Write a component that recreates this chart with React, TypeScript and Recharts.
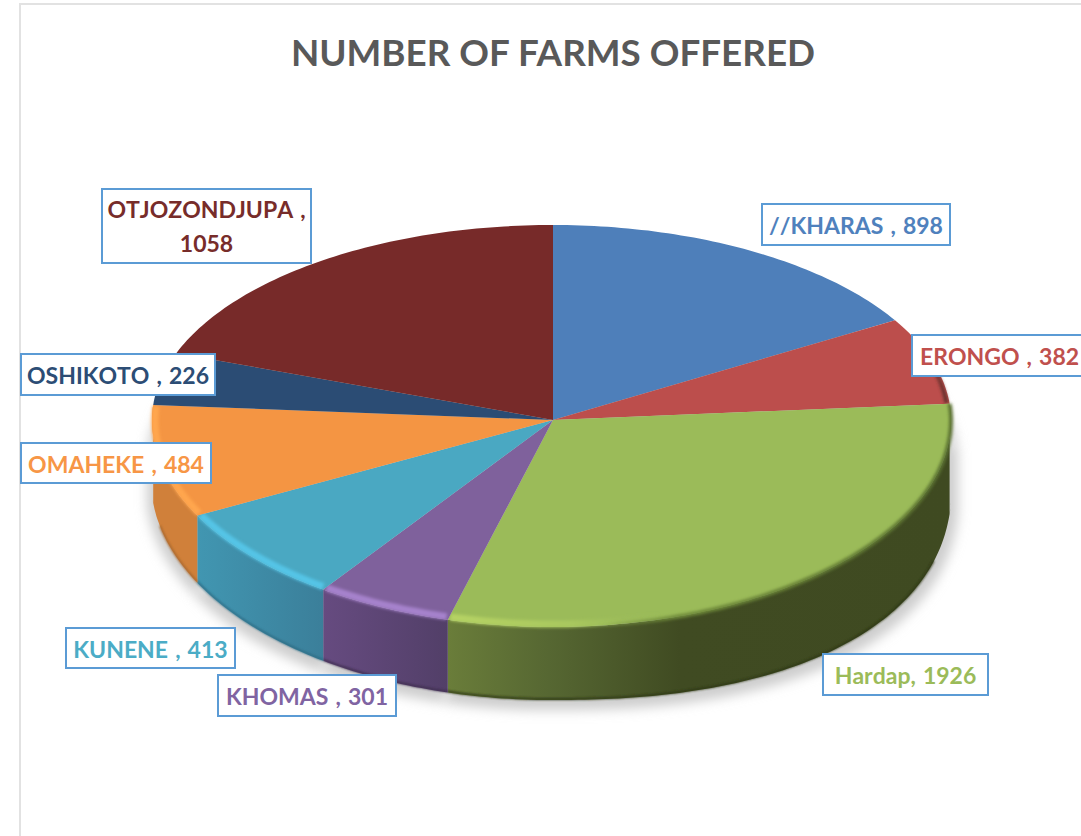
import React from "react";
import { PieChart, Pie } from "recharts";

const regions = ["//KHARAS", "ERONGO", "Hardap", "KHOMAS", "KUNENE", "OMAHEKE", "OSHIKOTO", "OTJOZONDJUPA"];
const farms = [898, 382, 1926, 301, 413, 484, 226, 1058];
const separators = [" , ", " , ", ", ", " , ", " , ", " , ", " , ", " ,"];
const colors = ["#4e7fba", "#bc4e4c", "#9bbb59", "#7f619c", "#4aa8c2", "#f49543", "#2b4c74", "#772a29"];
const textColors = ["#4f81bd", "#c0504d", "#9bbb59", "#8064a2", "#4bacc6", "#f79646", "#2c4d75", "#772c2a"];

const table = regions.map((name, i) => ({ name, value: farms[i], fill: colors[i], index: i }));

// Layout and styling, kept apart from the data
const CX = 553;
const CY = 420;
const RADIUS = 400;
const FAR_RY = 195;
const NEAR_RY = 207;
const RIGHT_RX = 398;
const LEFT_RX = 401;
// the reference's 3D view bends the pie's angles: [pie angle, drawn angle]
const BEND = [[0, 0], [56.8, 59.2], [81, 85.2], [202.9, 195.2], [222, 215], [248.1, 242.5], [278.7, 274.4], [293, 290], [360, 360]];
// x, y, width, height of each label box
const BOXES = [
  [762, 204, 188, 41],
  [912, 335, 175, 41],
  [823, 654, 165, 41],
  [218, 675, 178, 41],
  [66, 628, 169, 40],
  [21, 443, 190, 40],
  [21, 354, 194, 41],
  [102, 189, 209, 74],
];
const RIM = [null, "url(#rim1)", "url(#rim2)", "#a682cc", "#54c4e6", "#ffa64d", null, null];
const SIDE = ["none", "none", "url(#side2)", "url(#side3)", "url(#side4)", "#d0803a", "none", "none"];
const FOOT = [null, null, "#2f3818", "#3f2f50", "#2f6d85", "#a8682f", null, null];
const FONT = "Lato, sans-serif";

const bend = (t: number) => {
  for (let i = 1; i < BEND.length; i++) {
    const [a0, b0] = BEND[i - 1];
    const [a1, b1] = BEND[i];
    if (t <= a1) return b0 + ((t - a0) / (a1 - a0)) * (b1 - b0);
  }
  return t;
};
const rad = (d: number) => (d * Math.PI) / 180;
const pt = (cx: number, cy: number, w: number, grow = 0): [number, number] => {
  const s = Math.sin(rad(w));
  const c = Math.cos(rad(w));
  const rx = (s >= 0 ? RIGHT_RX : LEFT_RX) + grow;
  const ry = (c >= 0 ? FAR_RY : NEAR_RY) + grow;
  return [cx + rx * s, cy - ry * c];
};
const arc = (cx: number, cy: number, w0: number, w1: number, grow = 0) => {
  const out: [number, number][] = [];
  const n = Math.max(2, Math.ceil(Math.abs(w1 - w0)));
  for (let i = 0; i <= n; i++) out.push(pt(cx, cy, w0 + ((w1 - w0) * i) / n, grow));
  return out;
};
// silhouette of the pie's underside
const footY = (x: number) => {
  if (x >= 551) {
    const u = Math.min(1, (x - 551) / 401);
    return 480 + 220 * Math.pow(1 - Math.pow(u, 2.3), 1 / 2.3);
  }
  const u = Math.min(1, (551 - x) / 400);
  return 480 + 220 * Math.sqrt(1 - u * u);
};
const foot = (p: [number, number][]) => p.map(([x]) => [x, footY(x)] as [number, number]);
const toPath = (p: [number, number][]) => "M" + p.map(([x, y]) => `${x.toFixed(1)},${y.toFixed(1)}`).join("L");
const range = (p: any) => [bend(90 - p.startAngle), bend(90 - p.endAngle)];

const ShadowShape = (p: any) => {
  const [a, b] = range(p);
  const pts = arc(p.cx, p.cy, a, b).map(([x, y]) => {
    const nx = x + (x >= p.cx ? 7 : -5);
    return [nx, y > p.cy ? footY(x) + 10 : y + 40] as [number, number];
  });
  const d = toPath([[p.cx, p.cy + 60], ...pts]) + "Z";
  return <path d={d} fill="#cdcdcd" filter="url(#soft)" />;
};

const SideShape = (p: any) => {
  const [a, b] = range(p);
  const w0 = Math.max(a, 80);
  const w1 = Math.min(b, 280);
  if (w1 <= w0 || SIDE[p.index] === "none") return <g />;
  const rim = arc(p.cx, p.cy, w0, w1);
  const d = toPath([...rim, ...foot(rim).reverse()]) + "Z";
  const edge = FOOT[p.index];
  return (
    <g>
      <path d={d} fill={SIDE[p.index]} />
      {edge && <path d={toPath(foot(rim).map(([x, y]) => [x, y - 1] as [number, number]).filter(([x]) => x > 160 && x < 935))} fill="none" stroke={edge} strokeWidth={2} filter="url(#edgeBlur)" />}
    </g>
  );
};

const TopShape = (p: any) => {
  const [a, b] = range(p);
  const d = toPath([[p.cx, p.cy], ...arc(p.cx, p.cy, a, b)]) + "Z";
  const rim = RIM[p.index];
  return (
    <g>
      <path d={d} fill={p.payload?.fill ?? p.fill} />
      {rim && (
        <path
          d={toPath(arc(p.cx, p.cy, a + 0.3, b - 0.3, -3))}
          fill="none"
          stroke={rim}
          strokeWidth={p.index === 1 ? 4 : 7}
          filter="url(#rimBlur)"
        />
      )}
      {p.index === 2 && (
        <path
          d={toPath(arc(p.cx, p.cy, a, b, 0))}
          fill="none"
          stroke="url(#edge2)"
          strokeWidth={4}
          filter="url(#rimBlur)"
        />
      )}
    </g>
  );
};

const BoxLabel = (p: any) => {
  const i = p.index;
  const [x, y, w, h] = BOXES[i];
  const line = `${regions[i]}${separators[i]}`;
  const tx = x + w / 2;
  const style = { fontKerning: "none" as const, wordSpacing: 1.5 };
  return (
    <g>
      <rect x={x} y={y} width={w} height={h} fill="#fff" stroke="#5b9bd5" strokeWidth={2} />
      {h > 50 ? (
        <text textAnchor="middle" fill={textColors[i]} fontFamily={FONT} fontWeight={700} fontSize={23} style={style}>
          <tspan x={tx} y={y + 29}>{line}</tspan>
          <tspan x={tx} y={y + 63}>{farms[i]}</tspan>
        </text>
      ) : (
        <text x={tx} y={y + 30} textAnchor="middle" fill={textColors[i]} fontFamily={FONT} fontWeight={700} fontSize={23} style={style}>
          {line + farms[i]}
        </text>
      )}
    </g>
  );
};

const pieProps = {
  data: table,
  dataKey: "value",
  nameKey: "name",
  cx: CX,
  cy: CY,
  innerRadius: 0,
  outerRadius: RADIUS,
  startAngle: 90,
  endAngle: -270,
  stroke: "none",
  isAnimationActive: false,
  labelLine: false,
};

export default function App() {
  return (
    <div style={{ position: "absolute", left: 0, top: 0, width: 1081, height: 836, overflow: "hidden", background: "#fff" }}>
      <div style={{ position: "absolute", left: 19, top: 3, width: 1062, height: 833, borderLeft: "2px solid #e2e2e2", borderTop: "2px solid #e2e2e2", boxSizing: "border-box" }} />
      <div style={{ position: "absolute", left: 0, width: 1106, top: 30, textAlign: "center", fontFamily: FONT, fontWeight: 700, fontSize: 36.8, lineHeight: "44px", color: "#595959" }}>
        NUMBER OF FARMS OFFERED
      </div>
      <div style={{ position: "absolute", left: 0, top: 0 }}>
        <PieChart width={1081} height={836} margin={{ top: 0, right: 0, bottom: 0, left: 0 }}>
          <defs>
            <filter id="soft" filterUnits="userSpaceOnUse" x="0" y="0" width="1081" height="836">
              <feGaussianBlur stdDeviation="6" />
            </filter>
            <filter id="rimBlur" filterUnits="userSpaceOnUse" x="0" y="0" width="1081" height="836">
              <feGaussianBlur stdDeviation="1.6" />
            </filter>
            <filter id="edgeBlur" filterUnits="userSpaceOnUse" x="0" y="0" width="1081" height="836">
              <feGaussianBlur stdDeviation="0.8" />
            </filter>
            <linearGradient id="side2" gradientUnits="userSpaceOnUse" x1="448" y1="0" x2="952" y2="0">
              <stop offset="0" stopColor="#6a7d3a" />
              <stop offset="0.2" stopColor="#566732" />
              <stop offset="0.46" stopColor="#404b22" />
              <stop offset="1" stopColor="#3f4a21" />
            </linearGradient>
            <linearGradient id="side3" gradientUnits="userSpaceOnUse" x1="323" y1="0" x2="448" y2="0">
              <stop offset="0" stopColor="#664b80" />
              <stop offset="1" stopColor="#523f68" />
            </linearGradient>
            <linearGradient id="side4" gradientUnits="userSpaceOnUse" x1="198" y1="0" x2="323" y2="0">
              <stop offset="0" stopColor="#4196b1" />
              <stop offset="1" stopColor="#3b7f9a" />
            </linearGradient>
            <linearGradient id="rim2" gradientUnits="userSpaceOnUse" x1="448" y1="0" x2="952" y2="0">
              <stop offset="0" stopColor="#b6d364" />
              <stop offset="0.25" stopColor="#a8c75e" />
              <stop offset="0.42" stopColor="#9bbb59" stopOpacity="0" />
              <stop offset="1" stopColor="#9bbb59" stopOpacity="0" />
            </linearGradient>
            <linearGradient id="edge2" gradientUnits="userSpaceOnUse" x1="448" y1="0" x2="952" y2="0">
              <stop offset="0.3" stopColor="#6f8a3a" stopOpacity="0" />
              <stop offset="0.45" stopColor="#6f8a3a" stopOpacity="1" />
              <stop offset="1" stopColor="#5b7230" stopOpacity="1" />
            </linearGradient>
            <linearGradient id="rim1" gradientUnits="userSpaceOnUse" x1="915" y1="0" x2="945" y2="0">
              <stop offset="0" stopColor="#5c2c28" stopOpacity="0" />
              <stop offset="1" stopColor="#5c2c28" stopOpacity="0.9" />
            </linearGradient>
          </defs>
          <Pie {...pieProps} shape={ShadowShape} />
          <Pie {...pieProps} shape={SideShape} />
          <Pie {...pieProps} shape={TopShape} label={BoxLabel} />
        </PieChart>
      </div>
    </div>
  );
}
